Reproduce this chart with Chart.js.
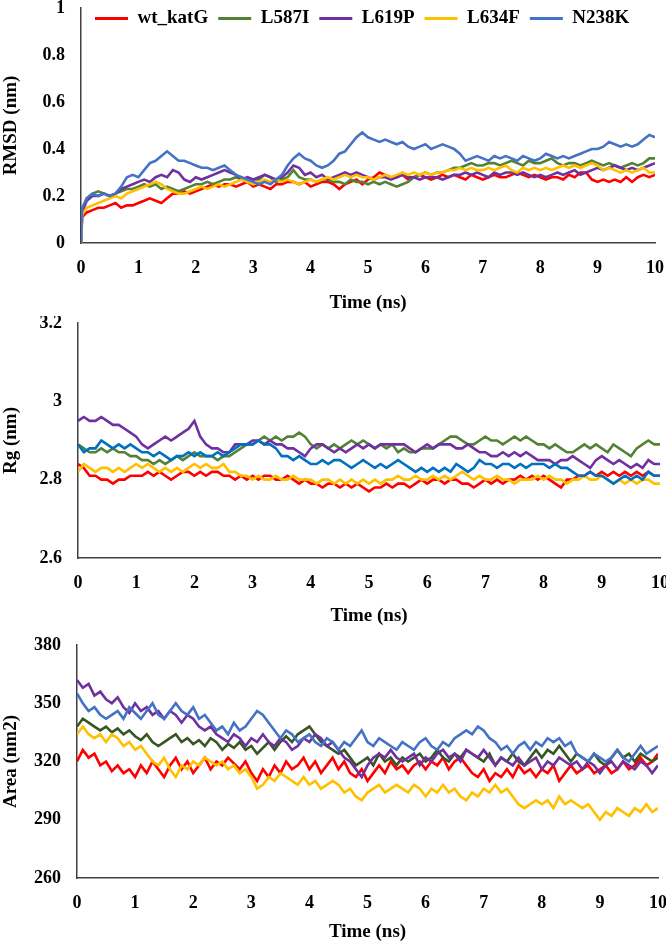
<!DOCTYPE html>
<html><head><meta charset="utf-8">
<script src="https://cdn.jsdelivr.net/npm/chart.js@4"></script>
<style>
html,body{margin:0;padding:0;background:#fff;width:666px;height:943px;overflow:hidden;}
.box{position:absolute;left:0;width:666px;}
</style></head><body>
<div class="box" style="top:0;height:316px"><canvas id="c1"></canvas></div>
<div class="box" style="top:316px;height:316px"><canvas id="c2"></canvas></div>
<div class="box" style="top:632px;height:311px"><canvas id="c3"></canvas></div>
<script>
const seriesNames = ['wt_katG','L587I','L619P','L634F','N238K'];
const xTicks = [0,1,2,3,4,5,6,7,8,9,10];

const time = [0,0.1,0.2,0.3,0.4,0.5,0.6,0.7,0.8,0.9,1.0,1.1,1.2,1.3,1.4,1.5,1.6,1.7,1.8,1.9,2.0,2.1,2.2,2.3,2.4,2.5,2.6,2.7,2.8,2.9,3.0,3.1,3.2,3.3,3.4,3.5,3.6,3.7,3.8,3.9,4.0,4.1,4.2,4.3,4.4,4.5,4.6,4.7,4.8,4.9,5.0,5.1,5.2,5.3,5.4,5.5,5.6,5.7,5.8,5.9,6.0,6.1,6.2,6.3,6.4,6.5,6.6,6.7,6.8,6.9,7.0,7.1,7.2,7.3,7.4,7.5,7.6,7.7,7.8,7.9,8.0,8.1,8.2,8.3,8.4,8.5,8.6,8.7,8.8,8.9,9.0,9.1,9.2,9.3,9.4,9.5,9.6,9.7,9.8,9.9,10];
const rmsdTime = [0,0.02,0.1,0.2,0.3,0.4,0.5,0.6,0.7,0.8,0.9,1.0,1.1,1.2,1.3,1.4,1.5,1.6,1.7,1.8,1.9,2.0,2.1,2.2,2.3,2.4,2.5,2.6,2.7,2.8,2.9,3.0,3.1,3.2,3.3,3.4,3.5,3.6,3.7,3.8,3.9,4.0,4.1,4.2,4.3,4.4,4.5,4.6,4.7,4.8,4.9,5.0,5.1,5.2,5.3,5.4,5.5,5.6,5.7,5.8,5.9,6.0,6.1,6.2,6.3,6.4,6.5,6.6,6.7,6.8,6.9,7.0,7.1,7.2,7.3,7.4,7.5,7.6,7.7,7.8,7.9,8.0,8.1,8.2,8.3,8.4,8.5,8.6,8.7,8.8,8.9,9.0,9.1,9.2,9.3,9.4,9.5,9.6,9.7,9.8,9.9,10];

// RMSD (nm)
const rmsdWt = [0,0.11,
0.13,0.14,0.15,0.15,0.16,0.17,0.15,0.16,0.16,0.17,
0.18,0.19,0.18,0.17,0.19,0.21,0.21,0.22,0.21,0.22,
0.23,0.24,0.25,0.24,0.25,0.25,0.24,0.25,0.26,0.24,
0.25,0.24,0.23,0.25,0.25,0.26,0.26,0.25,0.26,0.24,
0.25,0.26,0.26,0.25,0.23,0.25,0.26,0.27,0.25,0.27,
0.28,0.30,0.29,0.28,0.28,0.29,0.27,0.28,0.29,0.28,
0.27,0.28,0.29,0.28,0.29,0.28,0.27,0.29,0.28,0.27,
0.28,0.29,0.28,0.28,0.29,0.30,0.29,0.28,0.29,0.28,
0.27,0.28,0.28,0.27,0.29,0.28,0.30,0.30,0.27,0.26,
0.27,0.26,0.27,0.26,0.28,0.26,0.28,0.29,0.28,0.29];
const rmsdL587I = [0,0.14,
0.19,0.21,0.22,0.21,0.20,0.21,0.22,0.23,0.23,0.24,
0.25,0.24,0.25,0.23,0.24,0.23,0.22,0.23,0.24,0.25,
0.25,0.26,0.25,0.26,0.27,0.27,0.28,0.27,0.26,0.27,
0.27,0.29,0.28,0.26,0.27,0.28,0.31,0.28,0.27,0.27,
0.26,0.27,0.27,0.26,0.26,0.25,0.27,0.26,0.26,0.25,
0.26,0.25,0.26,0.25,0.24,0.25,0.26,0.28,0.29,0.30,
0.29,0.30,0.30,0.31,0.32,0.32,0.33,0.34,0.33,0.33,
0.34,0.34,0.33,0.34,0.35,0.34,0.33,0.35,0.34,0.34,
0.35,0.36,0.34,0.33,0.34,0.34,0.33,0.34,0.35,0.34,
0.33,0.34,0.33,0.32,0.33,0.34,0.33,0.34,0.36,0.36];
const rmsdL619P = [0,0.13,
0.18,0.20,0.20,0.21,0.20,0.21,0.23,0.24,0.25,0.26,
0.27,0.26,0.28,0.29,0.28,0.31,0.30,0.27,0.26,0.28,
0.27,0.28,0.29,0.30,0.31,0.30,0.29,0.27,0.28,0.27,
0.28,0.29,0.28,0.27,0.28,0.30,0.33,0.32,0.29,0.30,
0.28,0.29,0.27,0.28,0.29,0.30,0.29,0.30,0.29,0.28,
0.27,0.28,0.28,0.27,0.28,0.29,0.28,0.28,0.27,0.28,
0.28,0.28,0.27,0.28,0.29,0.29,0.30,0.29,0.30,0.29,
0.28,0.30,0.29,0.30,0.30,0.29,0.30,0.29,0.28,0.29,
0.28,0.29,0.30,0.29,0.30,0.31,0.29,0.30,0.31,0.32,
0.31,0.32,0.33,0.32,0.31,0.32,0.31,0.32,0.33,0.34];
const rmsdL634F = [0,0.12,
0.15,0.16,0.17,0.18,0.19,0.20,0.19,0.21,0.22,0.23,
0.24,0.25,0.26,0.25,0.23,0.22,0.21,0.21,0.22,0.23,
0.24,0.23,0.24,0.25,0.24,0.25,0.26,0.27,0.26,0.25,
0.26,0.27,0.26,0.27,0.26,0.27,0.26,0.25,0.26,0.27,
0.26,0.27,0.28,0.27,0.28,0.29,0.28,0.29,0.28,0.28,
0.27,0.28,0.29,0.28,0.29,0.30,0.29,0.30,0.29,0.30,
0.29,0.30,0.30,0.31,0.31,0.32,0.31,0.32,0.31,0.31,
0.32,0.31,0.32,0.33,0.31,0.30,0.32,0.31,0.32,0.31,
0.32,0.31,0.32,0.33,0.32,0.33,0.32,0.33,0.34,0.33,
0.31,0.32,0.31,0.30,0.31,0.30,0.31,0.32,0.30,0.30];
const rmsdN238K = [0,0.15,
0.19,0.21,0.20,0.21,0.20,0.21,0.24,0.28,0.29,0.28,
0.31,0.34,0.35,0.37,0.39,0.37,0.35,0.35,0.34,0.33,
0.32,0.32,0.31,0.32,0.33,0.31,0.29,0.28,0.27,0.26,
0.25,0.26,0.25,0.27,0.29,0.33,0.36,0.38,0.36,0.35,
0.33,0.32,0.33,0.35,0.38,0.39,0.42,0.45,0.47,0.45,
0.44,0.43,0.44,0.43,0.42,0.43,0.41,0.40,0.41,0.42,
0.40,0.41,0.42,0.41,0.40,0.38,0.35,0.36,0.37,0.36,
0.35,0.37,0.36,0.37,0.36,0.35,0.37,0.36,0.35,0.36,
0.38,0.37,0.36,0.37,0.36,0.37,0.38,0.39,0.40,0.40,
0.41,0.43,0.42,0.41,0.42,0.41,0.42,0.44,0.46,0.45];

// Rg (nm)
const rgWt = [2.84,
2.83,2.81,2.81,2.80,2.80,2.79,2.80,2.80,2.81,2.81,
2.81,2.82,2.81,2.82,2.81,2.80,2.81,2.82,2.82,2.81,
2.82,2.81,2.82,2.82,2.81,2.81,2.80,2.81,2.80,2.81,
2.80,2.81,2.81,2.80,2.80,2.81,2.80,2.79,2.80,2.79,
2.79,2.78,2.79,2.79,2.78,2.79,2.78,2.79,2.78,2.77,
2.78,2.78,2.79,2.78,2.79,2.79,2.78,2.79,2.80,2.79,
2.80,2.80,2.79,2.80,2.80,2.79,2.79,2.78,2.79,2.80,
2.79,2.80,2.79,2.80,2.80,2.81,2.80,2.81,2.80,2.81,
2.80,2.79,2.78,2.80,2.80,2.81,2.81,2.82,2.81,2.82,
2.81,2.82,2.81,2.82,2.81,2.82,2.81,2.82,2.81,2.81];
const rgL587I = [2.89,
2.88,2.87,2.87,2.88,2.87,2.88,2.87,2.87,2.86,2.86,
2.85,2.85,2.84,2.85,2.84,2.85,2.86,2.85,2.86,2.87,
2.86,2.86,2.86,2.85,2.86,2.86,2.87,2.88,2.89,2.89,
2.90,2.91,2.90,2.91,2.90,2.91,2.91,2.92,2.91,2.89,
2.88,2.89,2.88,2.89,2.88,2.89,2.90,2.89,2.90,2.89,
2.88,2.89,2.88,2.89,2.87,2.88,2.87,2.87,2.88,2.88,
2.88,2.89,2.90,2.91,2.91,2.90,2.89,2.89,2.90,2.91,
2.90,2.90,2.89,2.90,2.91,2.90,2.91,2.90,2.89,2.89,
2.88,2.89,2.88,2.87,2.87,2.88,2.89,2.88,2.89,2.88,
2.87,2.89,2.88,2.87,2.86,2.88,2.89,2.90,2.89,2.89];
const rgL619P = [2.95,
2.96,2.95,2.95,2.96,2.95,2.94,2.94,2.93,2.92,2.91,
2.89,2.88,2.89,2.90,2.91,2.90,2.91,2.92,2.93,2.95,
2.91,2.89,2.88,2.88,2.87,2.87,2.89,2.89,2.89,2.90,
2.90,2.89,2.90,2.89,2.89,2.88,2.88,2.87,2.86,2.88,
2.89,2.89,2.88,2.87,2.88,2.87,2.88,2.89,2.88,2.89,
2.88,2.89,2.89,2.89,2.89,2.89,2.88,2.87,2.88,2.89,
2.88,2.89,2.89,2.89,2.88,2.88,2.89,2.88,2.87,2.87,
2.86,2.86,2.87,2.86,2.87,2.86,2.87,2.86,2.85,2.85,
2.85,2.84,2.85,2.85,2.86,2.85,2.84,2.83,2.85,2.86,
2.85,2.84,2.85,2.84,2.83,2.84,2.83,2.85,2.84,2.84];
const rgL634F = [2.82,
2.84,2.83,2.82,2.83,2.83,2.82,2.83,2.82,2.83,2.84,
2.83,2.84,2.83,2.82,2.83,2.82,2.83,2.82,2.83,2.84,
2.83,2.84,2.83,2.83,2.84,2.82,2.82,2.81,2.81,2.80,
2.81,2.80,2.80,2.81,2.80,2.80,2.81,2.80,2.80,2.80,
2.79,2.80,2.80,2.79,2.80,2.79,2.80,2.79,2.80,2.79,
2.80,2.79,2.80,2.80,2.81,2.80,2.80,2.81,2.80,2.80,
2.81,2.80,2.81,2.80,2.81,2.82,2.81,2.80,2.81,2.80,
2.80,2.81,2.80,2.80,2.79,2.80,2.80,2.80,2.81,2.80,
2.81,2.80,2.80,2.79,2.80,2.80,2.81,2.80,2.80,2.81,
2.80,2.79,2.80,2.79,2.80,2.79,2.80,2.80,2.79,2.79];
const rgN238K = [2.89,
2.87,2.88,2.88,2.90,2.89,2.88,2.89,2.88,2.89,2.88,
2.87,2.87,2.86,2.87,2.86,2.85,2.86,2.86,2.87,2.86,
2.87,2.86,2.86,2.87,2.86,2.87,2.88,2.89,2.89,2.89,
2.90,2.89,2.89,2.88,2.86,2.86,2.85,2.86,2.85,2.84,
2.84,2.85,2.84,2.85,2.85,2.84,2.83,2.84,2.85,2.84,
2.83,2.84,2.83,2.84,2.85,2.84,2.83,2.82,2.83,2.82,
2.83,2.82,2.83,2.82,2.84,2.83,2.82,2.83,2.85,2.84,
2.84,2.83,2.84,2.84,2.83,2.84,2.83,2.84,2.84,2.84,
2.83,2.84,2.83,2.83,2.82,2.81,2.81,2.82,2.81,2.81,
2.80,2.79,2.80,2.81,2.80,2.81,2.80,2.82,2.81,2.81];

// Area (nm2)
const areaWt = [320,
326,322,324,318,320,315,318,314,316,312,
318,314,320,316,312,318,322,316,320,314,
318,322,316,320,318,322,319,316,320,314,
310,316,312,318,314,320,316,318,322,316,
320,314,318,322,316,320,314,312,316,310,
314,318,314,320,316,318,314,318,320,316,
320,318,322,316,320,322,318,314,312,316,
310,314,312,316,312,318,314,316,312,316,
314,318,310,314,318,314,316,318,314,316,
318,314,316,320,316,318,322,318,320,324];
const areaL587I = [338,
342,340,338,336,338,335,337,334,336,333,
331,334,330,328,330,332,334,330,332,329,
331,328,332,330,326,329,327,330,326,328,
324,327,330,326,330,333,330,334,336,338,
334,330,328,326,324,326,322,318,320,322,
318,324,320,322,318,322,320,322,324,320,
322,326,322,320,324,322,326,324,322,320,
324,318,322,320,324,320,318,322,326,322,
326,324,328,324,320,324,322,320,324,320,
318,322,326,322,324,320,324,322,320,322];
const areaL619P = [362,
358,360,354,356,352,350,353,348,345,350,
346,348,344,346,342,346,344,340,344,342,
338,336,338,334,332,330,334,332,328,332,
330,334,330,328,332,330,326,328,332,330,
334,332,328,330,326,322,320,316,312,318,
322,324,322,326,322,320,322,324,318,322,
320,324,326,322,324,320,326,324,322,326,
322,318,322,320,318,322,318,320,322,316,
320,318,322,320,318,320,316,320,318,314,
318,320,316,320,318,316,320,318,314,318];
const areaL634F = [334,
338,334,332,334,330,334,332,328,330,326,
328,324,320,318,322,316,312,318,316,320,
318,322,320,318,320,316,318,314,316,312,
306,308,312,310,314,312,310,308,312,308,
310,306,308,310,308,304,306,302,300,304,
306,308,304,306,308,306,304,308,306,302,
306,304,308,304,306,302,300,304,302,306,
304,308,304,306,302,298,296,298,300,298,
300,296,302,298,300,298,296,298,294,290,
294,292,296,294,292,296,294,298,294,296];
const areaN238K = [355,
350,346,348,344,342,344,346,342,348,345,
342,346,350,344,342,346,350,346,344,348,
342,344,340,336,338,334,340,336,338,342,
346,344,340,336,332,336,334,330,332,334,
330,328,332,330,326,330,328,332,336,330,
328,332,330,328,326,330,328,326,330,332,
328,326,330,328,332,334,336,334,338,336,
332,330,326,328,324,328,330,326,330,328,
332,330,332,328,330,324,322,320,324,322,
320,322,326,322,320,324,328,324,326,328];

const FONT = "'Times New Roman','Liberation Serif',serif";
const AXIS = '#404040';

const legendOverlay = {
  id: 'legendOverlay',
  beforeInit(chart) {
    const lg = chart.legend;
    if (!lg) return;
    const fit = lg.fit;
    lg.fit = function () { fit.call(this); this.height = 0; };
  },
  afterLayout(chart, args, opts) {
    const lg = chart.legend;
    if (!lg || !opts) return;
    const dx = opts.dx || 0, dy = opts.dy || 0;
    lg.left += dx; lg.right += dx; lg.top += dy;
    lg.bottom = lg.top + 40;
  }
};

function pts(xs, ys) { return xs.map((x, i) => ({x: x, y: ys[i]})); }

function makeChart(id, o) {
  const datasets = o.series.map((vals, i) => ({
    label: seriesNames[i],
    data: pts(o.xs, vals),
    borderColor: o.colors[i],
    backgroundColor: o.colors[i],
    borderWidth: 2.6,
    pointRadius: 0,
    tension: 0,
    order: seriesNames.length - i
  }));
  const tickFont = {family: FONT, size: 18, weight: 'bold', lineHeight: 1.2};
  const titleFont = {family: FONT, size: 19, weight: 'bold', lineHeight: 1.2};
  return new Chart(document.getElementById(id), {
    type: 'line',
    data: {datasets},
    plugins: [legendOverlay],
    options: {
      responsive: true,
      maintainAspectRatio: false,
      animation: false,
      events: [],
      layout: {padding: {left: 0, top: o.padTop, right: o.padRight, bottom: 0}},
      plugins: {
        tooltip: {enabled: false},
        legend: {
          display: o.legend,
          position: 'top',
          align: 'start',
          labels: {
            boxWidth: 33, boxHeight: 3, padding: 10, color: '#000',
            font: {family: FONT, size: 19, weight: 'bold'},
            sort: (a, b) => a.datasetIndex - b.datasetIndex,
            generateLabels: (chart) => Chart.defaults.plugins.legend.labels.generateLabels(chart).map(l => Object.assign(l, {lineWidth: 0}))
          }
        },
        legendOverlay: {dx: 85, dy: -9}
      },
      scales: {
        x: {
          type: 'linear', min: 0, max: 10,
          afterBuildTicks: (s) => { s.ticks = xTicks.map(v => ({value: v})); },
          ticks: {font: tickFont, color: '#000', padding: 15, maxRotation: 0, autoSkip: false},
          grid: {display: false, drawTicks: false},
          border: {display: true, color: AXIS, width: 1.5},
          title: {display: true, text: 'Time (ns)', color: '#000', font: titleFont, padding: {top: 0, bottom: o.xTitlePad}},
          afterFit: (s) => { s.height = o.xHeight; s.paddingLeft = 0; s.paddingRight = 0; }
        },
        y: {
          type: 'linear', min: o.yMin, max: o.yMax,
          afterBuildTicks: (s) => { s.ticks = o.yTicks.map(v => ({value: v})); },
          ticks: {font: tickFont, color: '#000', padding: 16, callback: (v) => String(v)},
          grid: {display: false, drawTicks: false},
          border: {display: true, color: AXIS, width: 1.5},
          title: {display: true, text: o.yTitle, color: '#000', font: titleFont, padding: {top: 0, bottom: 0}},
          afterFit: (s) => { s.width = o.yWidth; s.paddingTop = 0; s.paddingBottom = 0; }
        }
      }
    }
  });
}

const rmsdTicks = [0, 0.2, 0.4, 0.6, 0.8, 1];
const rgTicks = [2.6, 2.8, 3, 3.2];
const areaTicks = [260, 290, 320, 350, 380];

makeChart('c1', {
  xs: rmsdTime,
  series: [rmsdWt, rmsdL587I, rmsdL619P, rmsdL634F, rmsdN238K],
  colors: ['#FF0000', '#548235', '#7030A0', '#FFC000', '#4472C4'],
  legend: true, padTop: 8, padRight: 11, yWidth: 81, xHeight: 73, xTitlePad: 2,
  yMin: 0, yMax: 1, yTicks: rmsdTicks, yTitle: 'RMSD (nm)'
});
makeChart('c2', {
  xs: time,
  series: [rgWt, rgL587I, rgL619P, rgL634F, rgN238K],
  colors: ['#FF0000', '#548235', '#7030A0', '#FFC000', '#0070C0'],
  legend: false, padTop: 7, padRight: 6, yWidth: 78, xHeight: 74, xTitlePad: 5,
  yMin: 2.6, yMax: 3.2, yTicks: rgTicks, yTitle: 'Rg (nm)'
});
makeChart('c3', {
  xs: time,
  series: [areaWt, areaL587I, areaL619P, areaL634F, areaN238K],
  colors: ['#FF0000', '#375623', '#7030A0', '#FFC000', '#4472C4'],
  legend: false, padTop: 13, padRight: 8, yWidth: 77, xHeight: 65, xTitlePad: 0,
  yMin: 260, yMax: 380, yTicks: areaTicks, yTitle: 'Area (nm2)'
});
</script>
</body></html>
